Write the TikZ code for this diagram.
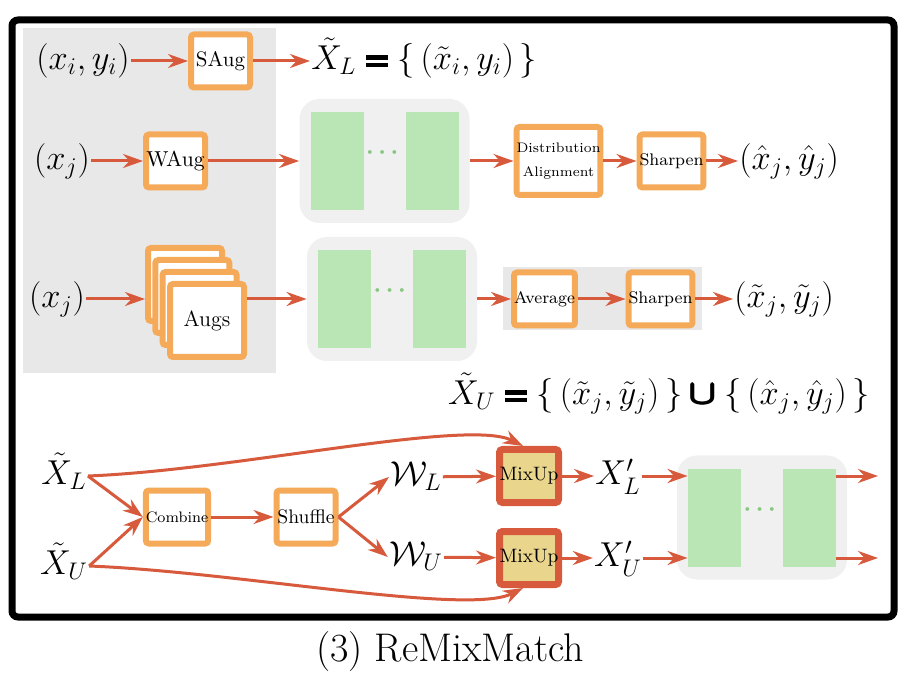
\documentclass[tikz,border=0pt]{standalone}
\usepackage{amsmath,amssymb}
\usepackage{tikz}
\usetikzlibrary{arrows.meta,calc,positioning}
\definecolor{ArrowRed}{HTML}{D75A3C}
\definecolor{BoxOrange}{HTML}{F5AA5A}
\definecolor{LayerGreen}{HTML}{B9E6B4}
\definecolor{DotGreen}{HTML}{86C67F}
\definecolor{NetGray}{HTML}{F0F0F0}
\definecolor{PanelGray}{HTML}{E8E8E8}
\definecolor{MixYellow}{HTML}{E9D68C}
\newcommand{\heavyeq}{\mathrel{\vcenter{\offinterlineskip
  \hbox{\rule{11pt}{2.3pt}}\kern1.5pt\hbox{\rule{11pt}{2.3pt}}}}}
\newcommand{\heavycup}{\mathbin{\pmb{\boldsymbol{\cup}}}}
\newcommand{\netblock}[2]{%
  \node[netbg] (#1) at (#2) {};
  \node[layer, anchor=west] (#1a) at ([xshift=5.5pt]#1.west) {};
  \node[layer, anchor=east] (#1b) at ([xshift=-5.5pt]#1.east) {};
  \node[text=DotGreen, font=\large] (#1dots) at ([yshift=4pt]#1.center) {$\boldsymbol{\cdots}$};%
}

\begin{document}
\begin{tikzpicture}[
    x=0.5pt, y=-0.5pt,
    >={Stealth[length=10pt,width=7pt]},
    flow/.style={->, draw=ArrowRed, line width=1.5pt},
    obox/.style={draw=BoxOrange, line width=3pt, fill=white, rounded corners=1.5pt,
      inner sep=0pt, minimum width=29.5pt, minimum height=26.5pt},
    mixbox/.style={draw=ArrowRed, line width=3.5pt, fill=MixYellow, rounded corners=1.5pt,
      inner sep=0pt, minimum width=29.5pt, minimum height=26.5pt,
      font=\fontsize{9.7}{11}\selectfont},
    netbg/.style={fill=NetGray, rounded corners=10pt, minimum width=85pt,
      minimum height=62pt, inner sep=0pt},
    layer/.style={fill=LayerGreen, minimum width=26.5pt, minimum height=49pt, inner sep=0pt},
    lbl/.style={font=\LARGE, inner sep=0.5pt, text height=13pt, text depth=4.3pt}
  ]
  \useasboundingbox[fill=white] (0,0) rectangle (910,678);
  \draw[line width=3.5pt, rounded corners=3pt, fill=white] (12,20) rectangle (894,617);
  \fill[PanelGray] (23,28) rectangle (276,373);
  \fill[PanelGray] (503,267) rectangle (702,330);

  % labelled branch
  \node[lbl] (xiyi) at (83,61) {$(x_i, y_i)$};
  \node[obox, font=\fontsize{10.5}{12}\selectfont] (saug) at (220.5,61) {SAug};
  \node[lbl, anchor=west] (setL) at (310,61)
    {$\tilde{X}_L \heavyeq \{\,(\tilde{x}_i, y_i)\,\}$};
  \draw[flow] (xiyi) -- (saug);
  \draw[flow] (saug) -- (setL);

  % weak augmentation branch
  \node[lbl] (xj1) at (62,161) {$(x_j)$};
  \node[obox, font=\fontsize{10.8}{12}\selectfont] (waug) at (175.5,161) {WAug};
  \netblock{net1}{384.5,161}
  \node[obox, minimum width=36.5pt, minimum height=34pt, align=center,
    font=\fontsize{6.9}{12}\selectfont] (dist) at (558.5,161) {Distribution\\Alignment};
  \node[obox, font=\fontsize{8.4}{10}\selectfont] (sharp1) at (671.5,161) {Sharpen};
  \node[lbl, anchor=west] (hatxy) at (738,161) {$(\hat{x}_j, \hat{y}_j)$};
  \draw[flow] (xj1) -- (waug);
  \draw[flow] (waug) -- (net1);
  \draw[flow] (net1) -- (dist);
  \draw[flow] (dist) -- (sharp1);
  \draw[flow] (sharp1) -- (hatxy);

  % strong augmentations branch
  \node[lbl] (xj2) at (57,299) {$(x_j)$};
  \foreach \k in {1,2,3}
    \node[obox, minimum width=37pt, minimum height=36.5pt]
      (aug\k) at ({185+7.3*(\k-1)},{284.5+12*(\k-1)}) {};
  \node[obox, minimum width=37pt, minimum height=36.5pt,
    font=\fontsize{11}{13}\selectfont] (augs) at (207,320.5) {Augs};
  \netblock{net2}{392,299}
  \node[obox, font=\fontsize{8.4}{10}\selectfont] (avg) at (544.5,299) {Average};
  \node[obox, font=\fontsize{8.4}{10}\selectfont] (sharp2) at (660.5,299) {Sharpen};
  \node[lbl, anchor=west] (tilxy) at (733,299) {$(\tilde{x}_j, \tilde{y}_j)$};
  \draw[flow] (xj2) -- (xj2 -| aug1.west);
  \draw[flow] (augs.east |- net2) -- (net2);
  \draw[flow] (net2) -- (avg);
  \draw[flow] (avg) -- (sharp2);
  \draw[flow] (sharp2) -- (tilxy);

  \node[lbl] (setU) at (659,396)
    {$\tilde{X}_U \heavyeq \{\,(\tilde{x}_j, \tilde{y}_j)\,\} \heavycup \{\,(\hat{x}_j, \hat{y}_j)\,\}$};

  % mixing
  \node[lbl] (XLt) at (64,476) {$\tilde{X}_L$};
  \node[lbl] (XUt) at (64,566) {$\tilde{X}_U$};
  \node[obox, font=\fontsize{7.6}{9}\selectfont] (comb) at (177,517) {Combine};
  \node[obox, font=\fontsize{9.8}{11}\selectfont] (shuf) at (306,517) {Shuffle};
  \node[lbl] (WL) at (416,477) {$\mathcal{W}_L$};
  \node[lbl] (WU) at (416,557) {$\mathcal{W}_U$};
  \node[mixbox] (mix1) at (529,476) {MixUp};
  \node[mixbox] (mix2) at (529,558) {MixUp};
  \node[lbl] (XpL) at (618,476) {$X'_L$};
  \node[lbl] (XpU) at (618,558) {$X'_U$};
  \netblock{net3}{762,517.5}
  \coordinate (out1) at (878,476);
  \coordinate (out2) at (878,558);
  \draw[flow] (XLt.east) -- (comb.west);
  \draw[flow] (XUt.east) -- (comb.west);
  \draw[flow] (comb) -- (shuf);
  \draw[flow] (shuf.east) -- (WL.west);
  \draw[flow] (shuf.east) -- (WU.west);
  \draw[flow] (WL) -- (mix1);
  \draw[flow] (WU) -- (mix2);
  \draw[flow] (mix1) -- (XpL);
  \draw[flow] (mix2) -- (XpU);
  \draw[flow] (XpL) -- (XpL -| net3a.west);
  \draw[flow] (XpU) -- (XpU -| net3a.west);
  \draw[flow] (XpL -| net3b.east) -- (out1);
  \draw[flow] (XpU -| net3b.east) -- (out2);
  \draw[flow] (XLt.east) .. controls +(150,-6) and +(-55,-28) .. ([xshift=-3pt]mix1.north);
  \draw[flow] (XUt.east) .. controls +(150,6) and +(-55,28) .. ([xshift=-3pt]mix2.south);

  \node[font=\fontsize{20}{24}\selectfont] (caption) at (450,652) {(3) ReMixMatch};
\end{tikzpicture}
\end{document}
